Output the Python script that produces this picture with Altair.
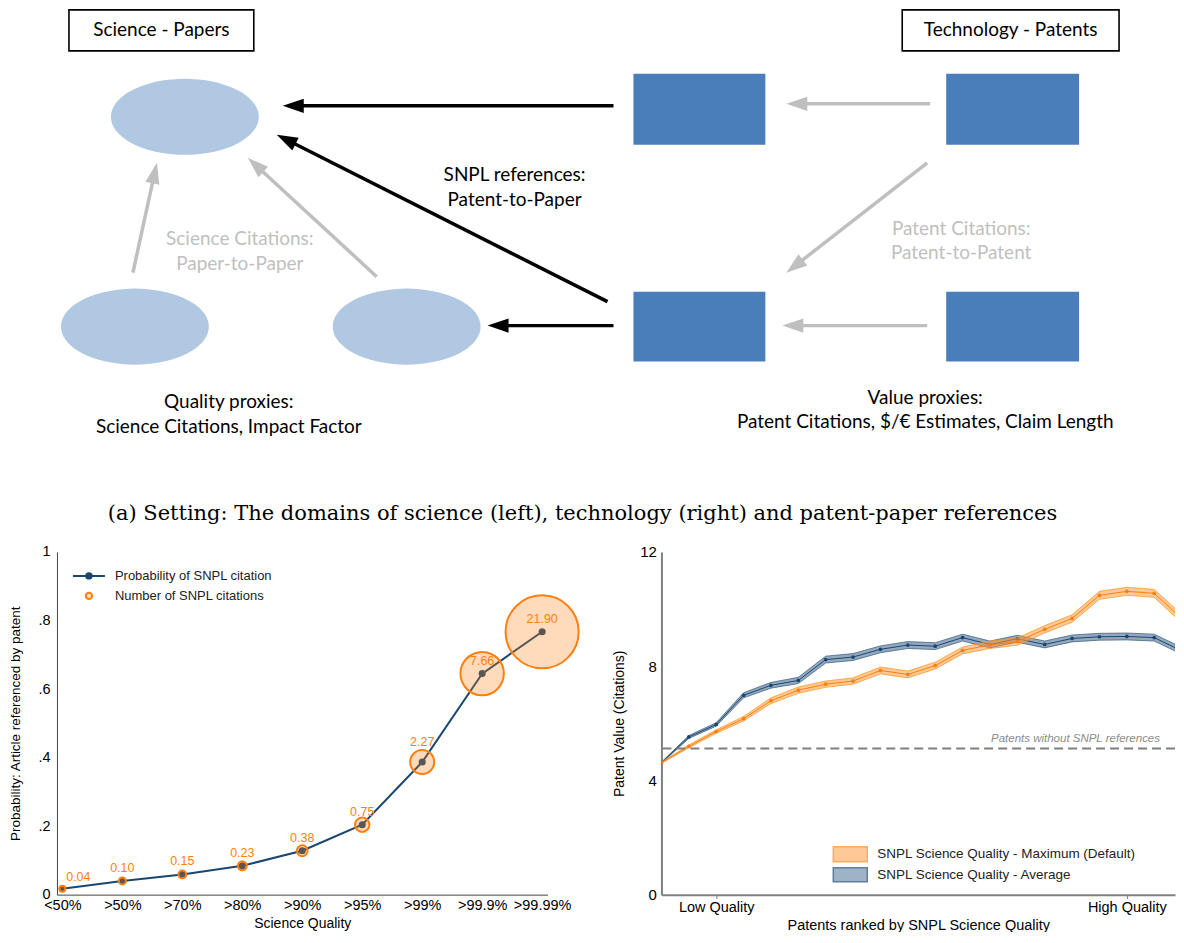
import math
import altair as alt
import pandas as pd

# ---------------- panel (a): schematic ----------------
box_labels = ["Science - Papers", "Technology - Patents"]
box_x1 = [69, 903]
box_x2 = [254, 1120]
box_y1 = [10, 10]
box_y2 = [51, 51]

paper_cx = [185, 135, 407]
paper_cy = [117, 327, 327]

patent_x1 = [634, 947, 634, 947]
patent_x2 = [766, 1080, 766, 1080]
patent_y1 = [74, 74, 292, 292]
patent_y2 = [145, 145, 362, 362]

arrow_kind = ["snpl", "snpl", "snpl", "cite", "cite", "cite", "cite", "cite"]
arrow_x1 = [614, 608, 614, 931, 928, 928, 133, 377]
arrow_y1 = [106, 302, 326, 104, 326, 163, 273, 277]
arrow_x2 = [283, 277, 488, 787, 783, 787, 157, 248]
arrow_y2 = [106, 135, 326, 104, 326, 273, 163, 158]

note_text = ["SNPL references:", "Patent-to-Paper",
             "Science Citations:", "Paper-to-Paper",
             "Patent Citations:", "Patent-to-Patent",
             "Quality proxies:", "Science Citations, Impact Factor",
             "Value proxies:", "Patent Citations, $/€ Estimates, Claim Length"]
note_kind = ["snpl", "snpl", "cite", "cite", "cite", "cite", "proxy", "proxy", "proxy", "proxy"]
note_x = [515, 515, 240, 240, 962, 962, 229, 229, 926, 926]
note_y = [175, 200, 239, 264, 229, 253, 402, 427, 398, 422]

caption = ["(a) Setting: The domains of science (left), technology (right) and patent-paper references"]
caption_x = [583]
caption_y = [515]

# ---------------- panel (b): probability of SNPL citation ----------------
quality_cats = ["<50%", ">50%", ">70%", ">80%", ">90%", ">95%", ">99%", ">99.9%", ">99.99%"]
prob_cited = [0.017, 0.040, 0.059, 0.084, 0.128, 0.204, 0.387, 0.645, 0.767]
num_citations = [0.04, 0.10, 0.15, 0.23, 0.38, 0.75, 2.27, 7.66, 21.90]
left_legend = ["Probability of SNPL citation", "Number of SNPL citations"]

# ---------------- panel (c): patent value by science quality ----------------
rank = list(range(20))
value_max = [4.62, 5.19, 5.71, 6.16, 6.79, 7.16, 7.37, 7.48, 7.85, 7.71,
             8.02, 8.55, 8.75, 8.86, 9.29, 9.67, 10.48, 10.62, 10.55, 9.67]
ci_max = [0.02, 0.05, 0.06, 0.08, 0.10, 0.11, 0.11, 0.11, 0.12, 0.12,
          0.12, 0.12, 0.13, 0.13, 0.13, 0.13, 0.14, 0.14, 0.14, 0.15]
value_avg = [4.62, 5.52, 5.96, 6.98, 7.33, 7.50, 8.23, 8.32, 8.59, 8.74,
             8.70, 9.00, 8.76, 8.96, 8.76, 8.97, 9.03, 9.04, 9.00, 8.54]
ci_avg = [0.02, 0.05, 0.06, 0.09, 0.10, 0.11, 0.12, 0.12, 0.12, 0.12,
          0.12, 0.12, 0.12, 0.12, 0.12, 0.12, 0.12, 0.12, 0.12, 0.12]
series_names = ["SNPL Science Quality - Maximum (Default)", "SNPL Science Quality - Average"]
no_snpl_value = [5.12]
no_snpl_label = ["Patents without SNPL references"]

NAVY = "#1a476f"
ORANGE = "#ff7f0e"
FONT = "Liberation Sans"

# ================= diagram =================
DX = alt.Scale(domain=[57, 1176], nice=False, zero=False)
DY = alt.Scale(domain=[11.5, 536.5], nice=False, zero=False, reverse=True)
_pts = [(math.cos(2 * math.pi * k / 72), 0.514 * math.sin(2 * math.pi * k / 72)) for k in range(72)]
ELLIPSE = "M" + "L".join(f"{px:.4f},{py:.4f}" for px, py in _pts) + "Z"
HEAD = "M0,0L0.34,1L-0.34,1Z"
kind_scale = alt.Scale(domain=["snpl", "cite", "proxy"], range=["#000000", "#bfbfbf", "#000000"])
text_kind_scale = alt.Scale(domain=["snpl", "cite", "proxy"], range=["#000000", "#a6a6a6", "#000000"])

papers = alt.Chart(pd.DataFrame({"cx": paper_cx, "cy": paper_cy})).mark_point(
    shape=ELLIPSE, size=148 * 148, filled=True, color="#b1c8e3", opacity=1, strokeWidth=0
).encode(x=alt.X("cx:Q", scale=DX, axis=None), y=alt.Y("cy:Q", scale=DY, axis=None))

patents = alt.Chart(pd.DataFrame({"x1": patent_x1, "x2": patent_x2, "y1": patent_y1, "y2": patent_y2})).mark_rect(
    color="#4a7ebb"
).encode(x=alt.X("x1:Q", scale=DX, axis=None), x2="x2:Q", y=alt.Y("y1:Q", scale=DY, axis=None), y2="y2:Q")

boxes_df = pd.DataFrame({"label": box_labels, "x1": box_x1, "x2": box_x2, "y1": box_y1, "y2": box_y2})
boxes = alt.Chart(boxes_df).mark_rect(fill="white", stroke="black", strokeWidth=1.6).encode(
    x=alt.X("x1:Q", scale=DX, axis=None), x2="x2:Q", y=alt.Y("y1:Q", scale=DY, axis=None), y2="y2:Q")
box_text = alt.Chart(boxes_df).transform_calculate(
    cx="(datum.x1 + datum.x2) / 2", cy="(datum.y1 + datum.y2) / 2"
).mark_text(font="Lato", fontSize=19, color="black", baseline="middle").encode(
    x=alt.X("cx:Q", scale=DX, axis=None), y=alt.Y("cy:Q", scale=DY, axis=None), text="label:N")

arrows_df = pd.DataFrame({"kind": arrow_kind, "x1": arrow_x1, "y1": arrow_y1, "x2": arrow_x2, "y2": arrow_y2})
arrow_base = alt.Chart(arrows_df).transform_calculate(
    len="sqrt(pow(datum.x2 - datum.x1, 2) + pow(datum.y2 - datum.y1, 2))"
).transform_calculate(
    ex="datum.x2 - (datum.x2 - datum.x1) / datum.len * 15",
    ey="datum.y2 - (datum.y2 - datum.y1) / datum.len * 15",
    ang="(atan2(datum.x2 - datum.x1, datum.y1 - datum.y2) * 180 / PI + 360) % 360",
)
shafts = arrow_base.mark_rule(strokeWidth=3.5, strokeCap="butt").encode(
    x=alt.X("x1:Q", scale=DX, axis=None), y=alt.Y("y1:Q", scale=DY, axis=None), x2="ex:Q", y2="ey:Q",
    color=alt.Color("kind:N", scale=kind_scale, legend=None))
heads = arrow_base.mark_point(shape=HEAD, size=42 * 42, filled=True, opacity=1, strokeWidth=0).encode(
    x=alt.X("x2:Q", scale=DX, axis=None), y=alt.Y("y2:Q", scale=DY, axis=None),
    angle=alt.Angle("ang:Q", scale=None),
    color=alt.Color("kind:N", scale=kind_scale, legend=None))

notes = alt.Chart(pd.DataFrame({"t": note_text, "kind": note_kind, "x": note_x, "y": note_y})).mark_text(
    font="Lato", fontSize=19, baseline="middle"
).encode(x=alt.X("x:Q", scale=DX, axis=None), y=alt.Y("y:Q", scale=DY, axis=None), text="t:N",
         color=alt.Color("kind:N", scale=text_kind_scale, legend=None))

cap = alt.Chart(pd.DataFrame({"t": caption, "x": caption_x, "y": caption_y})).mark_text(
    font="DejaVu Serif", fontSize=21, color="black", baseline="middle"
).encode(x=alt.X("x:Q", scale=DX, axis=None), y=alt.Y("y:Q", scale=DY, axis=None), text="t:N")

diagram = alt.layer(papers, patents, boxes, box_text, shafts, heads, notes, cap).properties(
    width=1119, height=525)

# ================= left chart =================
left_df = pd.DataFrame({"cat": quality_cats, "prob": prob_cited, "n": num_citations})
left_df["lab"] = [f"{v:.2f}" for v in num_citations]

lx = alt.X("cat:N", sort=quality_cats, scale=alt.Scale(type="point", padding=0.09),
           axis=alt.Axis(title="Science Quality", labelAngle=0, ticks=False, domainColor="#444",
                         domainWidth=1, labelFontSize=14.5, titleFontSize=14, labelPadding=4,
                         titlePadding=4))
ly = alt.Y("prob:Q", scale=alt.Scale(domain=[0, 1], nice=False),
           axis=alt.Axis(title="Probability: Article referenced by patent", values=[0, 0.2, 0.4, 0.6, 0.8, 1],
                         labelExpr="datum.value == 0 ? '0' : datum.value == 1 ? '1' : '.' + format(round(datum.value * 10), 'd')",
                         ticks=False, domainColor="#444", domainWidth=1, labelFontSize=14.5,
                         titleFontSize=13.5, labelPadding=7, titlePadding=15))

lbase = alt.Chart(left_df).encode(x=lx, y=ly)
l_line = lbase.mark_line(color=NAVY, strokeWidth=2)
l_dots = lbase.mark_point(filled=True, size=50, color=NAVY, opacity=1)
l_circ = lbase.mark_circle(color=ORANGE, fillOpacity=0.28, stroke=ORANGE, strokeWidth=2, opacity=1).encode(
    size=alt.Size("n:Q", scale=alt.Scale(domain=[0.04, 21.9], range=[35, 5350]), legend=None))
l_lab = lbase.transform_filter("datum.cat != '<50%' && datum.cat != '>99%'").mark_text(
    color=ORANGE, fontSize=12.5, dy=-13, baseline="middle").encode(text="lab:N")
l_lab_first = lbase.transform_filter("datum.cat == '<50%'").mark_text(
    color=ORANGE, fontSize=12.5, dx=16, dy=-12, baseline="middle").encode(text="lab:N")
l_lab_99 = lbase.transform_filter("datum.cat == '>99%'").mark_text(
    color=ORANGE, fontSize=12.5, dy=-20, baseline="middle").encode(text="lab:N")

leg_df = pd.DataFrame({"t": left_legend})
leg1 = alt.Chart(leg_df).transform_filter(alt.datum.t == left_legend[0])
leg2 = alt.Chart(leg_df).transform_filter(alt.datum.t == left_legend[1])
lg_rule = leg1.mark_rule(color=NAVY, strokeWidth=2).encode(x=alt.value(16), x2=alt.value(48), y=alt.value(24))
lg_dot = leg1.mark_point(filled=True, size=55, color=NAVY, opacity=1).encode(x=alt.value(32), y=alt.value(24))
lg_ring = leg2.mark_circle(size=40, color=ORANGE, fillOpacity=0.28, stroke=ORANGE, strokeWidth=2, opacity=1).encode(
    x=alt.value(32), y=alt.value(44))
lg_t1 = leg1.mark_text(align="left", baseline="middle", fontSize=13, color="#222").encode(
    x=alt.value(58), y=alt.value(24), text="t:N")
lg_t2 = leg2.mark_text(align="left", baseline="middle", fontSize=13, color="#222").encode(
    x=alt.value(58), y=alt.value(44), text="t:N")

left = alt.layer(l_line, l_dots, l_circ, l_lab, l_lab_first, l_lab_99,
                 lg_rule, lg_dot, lg_ring, lg_t1, lg_t2).properties(width=491, height=343)

# ================= right chart =================
rdf = pd.concat([
    pd.DataFrame({"rank": rank, "v": value_max, "ci": ci_max, "s": series_names[0]}),
    pd.DataFrame({"rank": rank, "v": value_avg, "ci": ci_avg, "s": series_names[1]}),
])
rx = alt.X("rank:Q", scale=alt.Scale(domain=[0, 18.76], nice=False, zero=False),
           axis=alt.Axis(title="Patents ranked by SNPL Science Quality", values=[2, 17],
                         labelExpr="datum.value == 2 ? 'Low Quality' : 'High Quality'",
                         ticks=True, tickSize=4, tickColor="#808080", domainColor="#808080", domainWidth=2,
                         labelFontSize=14.5, titleFontSize=14.5, labelPadding=2, titlePadding=4))
ry = alt.Y("v:Q", scale=alt.Scale(domain=[0, 12], nice=False),
           axis=alt.Axis(title="Patent Value (Citations)", values=[0, 4, 8, 12], ticks=False,
                         domainColor="#808080", domainWidth=2, labelFontSize=15, titleFontSize=14,
                         labelPadding=5, titlePadding=13))
series_style = {
    series_names[0]: {"fill": "#ff9a3c", "edge": "#f7941d", "mid": ORANGE},
    series_names[1]: {"fill": "#3c6289", "edge": "#34597f", "mid": NAVY},
}

rbase = alt.Chart(rdf).transform_calculate(lo="datum.v - datum.ci", hi="datum.v + datum.ci")
layers = []
for name in [series_names[1], series_names[0]]:
    st = series_style[name]
    b = rbase.transform_filter(alt.datum.s == name)
    layers.append(b.mark_area(color=st["fill"], opacity=0.55, clip=True).encode(
        x=rx, y=alt.Y("lo:Q", scale=alt.Scale(domain=[0, 12], nice=False)), y2="hi:Q"))
    layers.append(b.mark_line(color=st["edge"], strokeWidth=1, opacity=0.7, clip=True).encode(
        x=rx, y=alt.Y("lo:Q")))
    layers.append(b.mark_line(color=st["edge"], strokeWidth=1, opacity=0.7, clip=True).encode(
        x=rx, y=alt.Y("hi:Q")))
    layers.append(b.mark_line(color=st["mid"], strokeWidth=1, clip=True).encode(x=rx, y=ry))
    layers.append(b.mark_point(color=st["mid"], filled=True, size=14, opacity=1, clip=True).encode(x=rx, y=ry))

ref_df = pd.DataFrame({"v": no_snpl_value, "t": no_snpl_label})
ref_rule = alt.Chart(ref_df).mark_rule(color="#7f7f7f", strokeWidth=2, strokeDash=[9, 5]).encode(y=ry)
ref_text = alt.Chart(ref_df).mark_text(align="right", baseline="middle", dy=-9, fontSize=11.5,
                                       fontStyle="italic", color="#8c8c8c").encode(
    x=alt.value(499), y=ry, text="t:N")

rleg_df = pd.DataFrame({"s": series_names})
r_sw1 = alt.Chart(rleg_df).transform_filter(alt.datum.s == series_names[0]).mark_rect(
    fill="#ffc896", stroke="#ffab5e", strokeWidth=1.5).encode(
    x=alt.value(172), x2=alt.value(206), y=alt.value(295), y2=alt.value(310))
r_sw2 = alt.Chart(rleg_df).transform_filter(alt.datum.s == series_names[1]).mark_rect(
    fill="#9fb3c6", stroke="#5f7f9f", strokeWidth=1.5).encode(
    x=alt.value(172), x2=alt.value(206), y=alt.value(316), y2=alt.value(330))
r_t1 = alt.Chart(rleg_df).transform_filter(alt.datum.s == series_names[0]).mark_text(
    align="left", baseline="middle", fontSize=13.5, color="#222").encode(
    x=alt.value(216), y=alt.value(302), text="s:N")
r_t2 = alt.Chart(rleg_df).transform_filter(alt.datum.s == series_names[1]).mark_text(
    align="left", baseline="middle", fontSize=13.5, color="#222").encode(
    x=alt.value(216), y=alt.value(323), text="s:N")

right = alt.layer(*layers, ref_rule, ref_text, r_sw1, r_sw2, r_t1, r_t2).properties(width=514, height=343)

bottom = alt.hconcat(left, right, spacing=29)
chart = alt.concat(diagram, bottom, columns=1, align="none", spacing=8).properties(
    padding=0, background="white"
).configure(font=FONT).configure_view(stroke=None).configure_axis(
    labelFont=FONT, titleFont=FONT, titleFontWeight="normal", labelColor="black", titleColor="black", grid=False
)

chart.save("out.html", embed_options={"renderer": "svg", "actions": False})
